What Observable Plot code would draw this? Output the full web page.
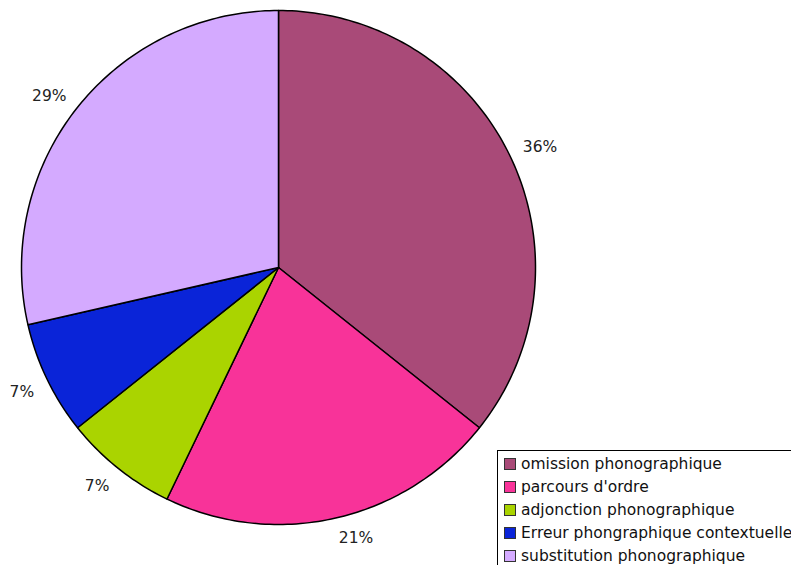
<!DOCTYPE html>
<html><head><meta charset="utf-8">
<script src="https://cdn.jsdelivr.net/npm/d3@7"></script>
<script src="https://cdn.jsdelivr.net/npm/@observablehq/plot@0.6"></script>
<style>
body{margin:0;overflow:hidden;background:#fff;font-family:"DejaVu Sans",Verdana,sans-serif}
#wrap{position:relative;width:791px;height:565px;overflow:hidden}
#legend{position:absolute;left:497px;top:450px;width:340px;height:140px;border:1px solid #000;background:#fff;box-sizing:border-box;padding-top:1px}
.row{display:flex;align-items:center;height:23.2px;font-size:15.5px;color:#111;white-space:nowrap}
.sw{width:10px;height:10px;border:1px solid #333;margin-left:6px;margin-right:5px;flex:none}
</style>
</head><body><div id="wrap"></div>
<script>
const categories = ["omission phonographique","parcours d'ordre","adjonction phonographique","Erreur phongraphique contextuelle","substitution phonographique"];
const values = [5, 3, 1, 1, 4];
const labels = ["36%", "21%", "7%", "7%", "29%"];
const colors = ["#a94a78", "#f83399", "#aad400", "#0a24d8", "#d4aaff"];

const data = categories.map((c, i) => ({cat: c, value: values[i], label: labels[i]}));
const arcs = d3.pie().sort(null).value(d => d.value)(data);

// slice outlines from pie angles (angle 0 = 12 o'clock, clockwise)
const pts = [];
arcs.forEach(a => {
  pts.push({cat: a.data.cat, x: 0, y: 0});
  const n = Math.max(2, Math.ceil((a.endAngle - a.startAngle) / (2 * Math.PI) * 360));
  for (let j = 0; j <= n; j++) {
    const t = a.startAngle + (a.endAngle - a.startAngle) * j / n;
    pts.push({cat: a.data.cat, x: Math.sin(t), y: Math.cos(t)});
  }
  pts.push({cat: a.data.cat, x: 0, y: 0});
});

const R = 1.055;
const lab = arcs.map(a => {
  const m = (a.startAngle + a.endAngle) / 2;
  return {label: a.data.label, x: Math.sin(m) * R, y: Math.cos(m) * R, right: Math.sin(m) >= 0, top: Math.cos(m) >= 0};
});

const textOpts = {x: "x", y: "y", text: "label", fontSize: 15.5, fill: "#222"};
const chart = Plot.plot({
  width: 791, height: 565,
  marginTop: 0, marginRight: 0, marginBottom: 0, marginLeft: 0,
  x: {domain: [-1, 1], range: [21, 535], axis: null},
  y: {domain: [-1, 1], range: [524, 10], axis: null},
  color: {domain: categories, range: colors},
  style: {fontFamily: "DejaVu Sans", background: "#fff"},
  marks: [
    Plot.line(pts, {x: "x", y: "y", z: "cat", fill: "cat", stroke: "#000", strokeWidth: 1.5, strokeLinejoin: "round"}),
    Plot.text(lab, {...textOpts, filter: d => d.right && d.top, textAnchor: "start", lineAnchor: "bottom", dy: 2}),
    Plot.text(lab, {...textOpts, filter: d => d.right && !d.top, textAnchor: "start", lineAnchor: "top"}),
    Plot.text(lab, {...textOpts, filter: d => !d.right && !d.top, textAnchor: "end", lineAnchor: "top", dy: 1}),
    Plot.text(lab, {...textOpts, filter: d => !d.right && d.top, textAnchor: "end", lineAnchor: "bottom", dy: 3})
  ]
});
const wrap = document.getElementById("wrap");
wrap.appendChild(chart);

const legend = document.createElement("div");
legend.id = "legend";
categories.forEach((c, i) => {
  const row = document.createElement("div");
  row.className = "row";
  const sw = document.createElement("span");
  sw.className = "sw";
  sw.style.background = colors[i];
  const t = document.createElement("span");
  t.textContent = c;
  row.appendChild(sw); row.appendChild(t);
  legend.appendChild(row);
});
wrap.appendChild(legend);
</script>
</body></html>
